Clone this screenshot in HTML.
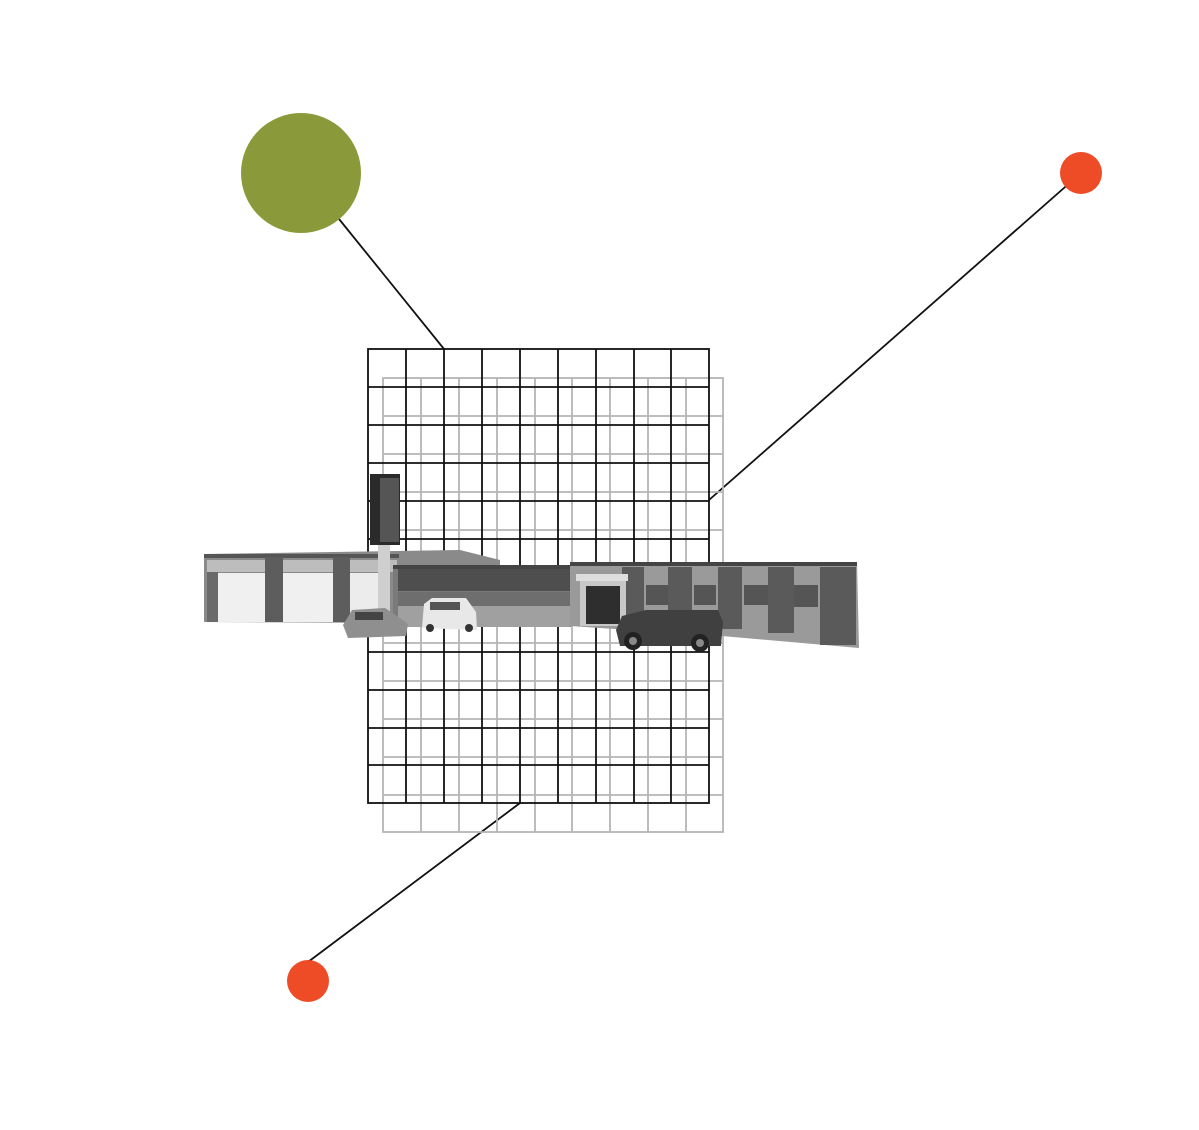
<!DOCTYPE html>
<html><head><style>html,body{margin:0;padding:0;background:#fff;}svg{display:block}</style></head>
<body>
<svg width="1199" height="1130" viewBox="0 0 1199 1130" xmlns="http://www.w3.org/2000/svg">
<rect width="1199" height="1130" fill="#fff"/>
<!-- connectors -->
<line x1="339" y1="219" x2="444" y2="349" stroke="#111" stroke-width="1.8"/>
<line x1="1081" y1="173" x2="709" y2="500" stroke="#111" stroke-width="1.8"/>
<line x1="308" y1="962" x2="520" y2="803" stroke="#111" stroke-width="1.8"/>
<circle cx="301" cy="173" r="60" fill="#8a9a3a"/>
<circle cx="1081" cy="173" r="21" fill="#ee4b27"/>
<circle cx="308" cy="981" r="21" fill="#ee4b27"/>
<!-- gray grid -->
<g stroke="#b5b5b5" stroke-width="1.8" fill="none">
<rect x="383" y="378" width="340" height="454"/>
<path d="M421 378V832M459 378V832M497 378V832M535 378V832M572 378V832M610 378V832M648 378V832M686 378V832"/>
<path d="M383 416H723M383 454H723M383 492H723M383 530H723M383 567H723M383 605H723M383 643H723M383 681H723M383 719H723M383 757H723M383 795H723"/>
</g>
<!-- black grid -->
<g stroke="#111" stroke-width="1.8" fill="none">
<rect x="368" y="349" width="341" height="454"/>
<path d="M406 349V803M444 349V803M482 349V803M520 349V803M558 349V803M596 349V803M634 349V803M671 349V803"/>
<path d="M368 387H709M368 425H709M368 463H709M368 501H709M368 539H709M368 576H709M368 614H709M368 652H709M368 690H709M368 728H709M368 765H709"/>
</g>
<!-- building photo approximation -->
<g>
<!-- left building -->
<polygon points="204,554 460,550 500,560 500,600 395,623 204,622" fill="#8a8a8a"/>
<rect x="204" y="554" width="195" height="4" fill="#555"/>
<rect x="207" y="560" width="190" height="12" fill="#bdbdbd"/>
<rect x="207" y="572" width="11" height="50" fill="#6a6a6a"/>
<rect x="218" y="573" width="47" height="49" fill="#f0f0f0"/>
<rect x="265" y="557" width="18" height="65" fill="#5d5d5d"/>
<rect x="283" y="573" width="50" height="49" fill="#f0f0f0"/>
<rect x="333" y="557" width="17" height="65" fill="#5d5d5d"/>
<rect x="350" y="573" width="35" height="49" fill="#ececec"/>
<!-- sign -->
<rect x="378" y="540" width="12" height="72" fill="#cfcfcf"/>
<rect x="370" y="474" width="30" height="71" fill="#2a2a2a"/>
<rect x="380" y="478" width="19" height="64" fill="#555"/>
<!-- middle section -->
<rect x="393" y="565" width="178" height="62" fill="#7a7a7a"/>
<rect x="393" y="565" width="178" height="4" fill="#444"/>
<rect x="398" y="569" width="172" height="22" fill="#4e4e4e"/>
<rect x="398" y="592" width="172" height="14" fill="#6e6e6e"/>
<rect x="398" y="606" width="172" height="21" fill="#a0a0a0"/>
<!-- right building -->
<polygon points="570,562 857,562 859,648 722,636 570,626" fill="#9a9a9a"/>
<rect x="570" y="562" width="287" height="4" fill="#444"/>
<rect x="622" y="567" width="22" height="58" fill="#5a5a5a"/>
<rect x="668" y="567" width="24" height="58" fill="#5a5a5a"/>
<rect x="718" y="567" width="24" height="62" fill="#5a5a5a"/>
<rect x="768" y="567" width="26" height="66" fill="#5a5a5a"/>
<rect x="820" y="567" width="36" height="78" fill="#5a5a5a"/>
<rect x="646" y="585" width="22" height="20" fill="#555"/>
<rect x="694" y="585" width="22" height="20" fill="#555"/>
<rect x="744" y="585" width="24" height="20" fill="#555"/>
<rect x="794" y="585" width="24" height="22" fill="#555"/>
<rect x="576" y="574" width="52" height="7" fill="#ddd"/>
<rect x="580" y="581" width="46" height="45" fill="#c8c8c8"/>
<rect x="586" y="586" width="34" height="38" fill="#2e2e2e"/>
<!-- cars -->
<path d="M343 625 L352 610 L385 608 L400 618 L408 624 L406 636 L348 638 Z" fill="#8f8f8f"/>
<rect x="355" y="612" width="28" height="8" fill="#444"/>
<path d="M422 628 L424 604 L432 598 L466 598 L476 612 L477 630 Z" fill="#e8e8e8"/>
<rect x="430" y="602" width="30" height="8" fill="#555"/>
<circle cx="430" cy="628" r="4" fill="#333"/><circle cx="469" cy="628" r="4" fill="#333"/>
<path d="M616 630 L622 616 L646 610 L718 610 L723 622 L721 646 L620 646 Z" fill="#404040"/>
<circle cx="633" cy="641" r="9" fill="#222"/><circle cx="700" cy="643" r="9" fill="#222"/>
<circle cx="633" cy="641" r="4" fill="#888"/><circle cx="700" cy="643" r="4" fill="#888"/>
</g>
</svg>
</body></html>
